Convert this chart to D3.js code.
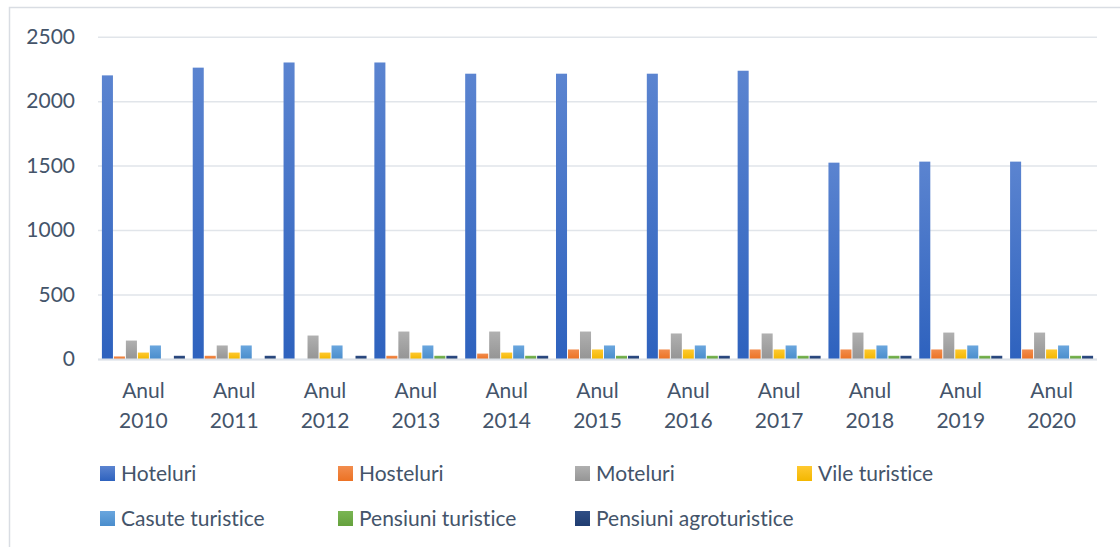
<!DOCTYPE html>
<html>
<head>
<meta charset="utf-8">
<script src="https://cdn.jsdelivr.net/npm/d3@7"></script>
<style>
  html, body { margin: 0; padding: 0; background: #fff; }
  svg { display: block; }
  text { font-family: Lato, "Open Sans", sans-serif; fill: #44546A;
         font-variant-ligatures: none; font-feature-settings: "liga" 0, "clig" 0; }
</style>
</head>
<body>
<svg id="chart" width="1120" height="547"></svg>
<script>
// Years shown on the category axis
const years = ["2010", "2011", "2012", "2013", "2014", "2015", "2016", "2017", "2018", "2019", "2020"];
const categoryPrefix = "Anul";

// Accommodation types (series)
const seriesNames = ["Hoteluri", "Hosteluri", "Moteluri", "Vile turistice", "Casute turistice", "Pensiuni turistice", "Pensiuni agroturistice"];

// Values per series, one per year
const hoteluri       = [2200, 2260, 2300, 2300, 2213, 2213, 2213, 2236, 1523, 1531, 1531];
const hosteluri      = [20, 25, 0, 25, 42, 74, 74, 74, 74, 74, 74];
const moteluri       = [143, 105, 182, 213, 213, 213, 198, 198, 205, 205, 205];
const vileTuristice  = [50, 50, 50, 50, 50, 74, 74, 74, 74, 74, 74];
const casuteTuristice = [105, 105, 105, 105, 105, 105, 105, 105, 105, 105, 105];
const pensiuniTuristice = [0, 0, 0, 25, 25, 25, 25, 25, 25, 25, 25];
const pensiuniAgro   = [25, 25, 25, 25, 25, 25, 25, 25, 25, 25, 25];

const yTicks = [0, 500, 1000, 1500, 2000, 2500];

const seriesValues = [hoteluri, hosteluri, moteluri, vileTuristice, casuteTuristice, pensiuniTuristice, pensiuniAgro];
const seriesColors = [
  ["#5B84D0", "#2E62BE"],
  ["#F28D4E", "#EC7224"],
  ["#B0B0B0", "#959595"],
  ["#FFC930", "#F3B700"],
  ["#6AA6DE", "#4A8DCC"],
  ["#7AB654", "#65A13D"],
  ["#2F4E85", "#1F3C70"]
];

const svg = d3.select("#chart");
const W = 1120, H = 547;
const fontSize = 21;

// Chart area border
svg.append("rect")
  .attr("x", 9.5).attr("y", 7.5)
  .attr("width", W + 20).attr("height", H + 20)
  .attr("fill", "none").attr("stroke", "#D9DDE3").attr("stroke-width", 1.5);

const plot = { left: 98, right: 1097, top: 36.7, bottom: 359 };

const y = d3.scaleLinear().domain([0, 2500]).range([plot.bottom, plot.top]);
const x0 = d3.scaleBand().domain(years).range([plot.left, plot.right])
  .paddingInner(0.086).paddingOuter(0.043);
const x1 = d3.scaleBand().domain(d3.range(seriesNames.length)).range([0, x0.bandwidth()])
  .paddingInner(0.08);

// Gradients per series
const defs = svg.append("defs");
seriesColors.forEach((c, i) => {
  const g = defs.append("linearGradient").attr("id", "grad" + i)
    .attr("x1", 0).attr("y1", 0).attr("x2", 0).attr("y2", 1);
  g.append("stop").attr("offset", "0%").attr("stop-color", c[0]);
  g.append("stop").attr("offset", "100%").attr("stop-color", c[1]);
});

// Horizontal gridlines and value labels
const yAxis = d3.axisLeft(y).tickValues(yTicks).tickFormat(d3.format("d"))
  .tickSize(-(plot.right - plot.left)).tickPadding(23);
const gy = svg.append("g").attr("transform", `translate(${plot.left},0)`).call(yAxis);
gy.select(".domain").remove();
gy.selectAll(".tick line").attr("stroke", "#E1E5EA").attr("stroke-width", 1.5);
gy.selectAll(".tick text").attr("font-size", fontSize).attr("fill", "#44546A")
  .style("font-family", "Lato, 'Open Sans', sans-serif");

// Bars
const groups = svg.append("g").selectAll("g").data(years).join("g")
  .attr("transform", d => `translate(${x0(d)},0)`);
groups.selectAll("rect")
  .data((d, yi) => seriesValues.map((vals, si) => ({ si, v: vals[yi] })))
  .join("rect")
  .attr("x", d => x1(d.si))
  .attr("width", x1.bandwidth())
  .attr("y", d => y(d.v))
  .attr("height", d => plot.bottom - y(d.v))
  .attr("fill", d => `url(#grad${d.si})`);

// Baseline
svg.append("line")
  .attr("x1", plot.left).attr("x2", plot.right)
  .attr("y1", plot.bottom + 0.5).attr("y2", plot.bottom + 0.5)
  .attr("stroke", "#DCE1E7").attr("stroke-width", 2);

// Category labels (two lines)
const catLabels = svg.append("g").selectAll("text").data(years).join("text")
  .attr("x", d => x0(d) + x0.bandwidth() / 2)
  .attr("y", 398)
  .attr("text-anchor", "middle")
  .attr("font-size", fontSize);
catLabels.append("tspan").attr("x", d => x0(d) + x0.bandwidth() / 2).text(categoryPrefix);
catLabels.append("tspan").attr("x", d => x0(d) + x0.bandwidth() / 2).attr("dy", 29.5).text(d => d);

// Legend
const legendCols = [100, 338, 575, 797];
const legendRows = [481, 526];
const legend = svg.append("g").selectAll("g").data(seriesNames).join("g")
  .attr("transform", (d, i) => `translate(${legendCols[i % 4]},${legendRows[Math.floor(i / 4)]})`);
legend.append("rect")
  .attr("x", 0).attr("y", -15).attr("width", 15).attr("height", 15)
  .attr("fill", (d, i) => `url(#grad${i})`);
legend.append("text")
  .attr("x", 21).attr("y", 0)
  .attr("font-size", fontSize)
  .text(d => d);
</script>
</body>
</html>
